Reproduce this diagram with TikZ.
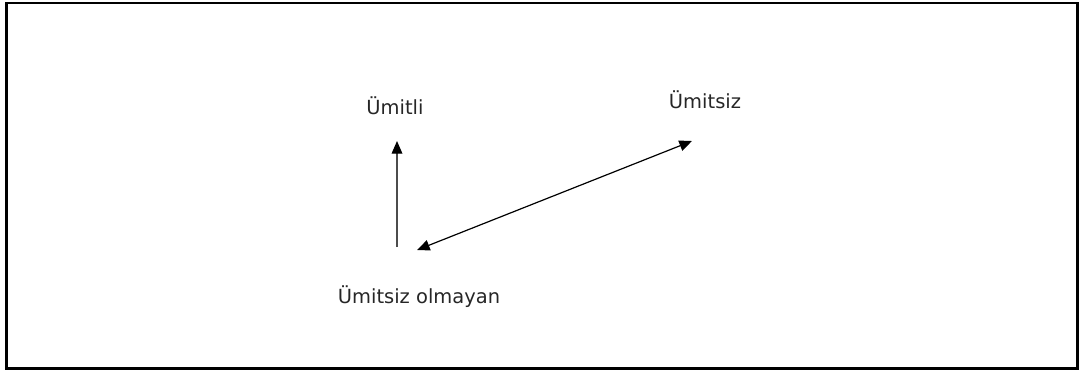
\documentclass[tikz,border=0pt]{standalone}
\usepackage{fontspec}
\setmainfont{DejaVu Sans}
\usetikzlibrary{arrows.meta}

\begin{document}
\begin{tikzpicture}[
    x=0.75pt, y=-0.75pt,
    lbl/.style={inner sep=0pt, text=black!85, font=\fontsize{14.6}{16}\selectfont},
    arrow/.style={-{Triangle[length=9.5pt, width=8pt, color=black]}, line width=0.9pt},
    both/.style={{Triangle[length=9.5pt, width=8pt]}-{Triangle[length=9.5pt, width=8pt]}, line width=0.9pt}
]
\useasboundingbox (0,0) rectangle (1081,371);

% frame
\draw[line width=1.6pt] (6.5,3) rectangle (1077.5,368.5);

% labels
\node[lbl] (umitli) at (395,106) {Ümitli};
\node[lbl] (umitsiz) at (705,100) {Ümitsiz};
\node[lbl] (olmayan) at (419,297) {Ümitsiz olmayan};

% arrow ends
\coordinate (up0) at (397,247);
\coordinate (up1) at (397,141);
\coordinate (d0) at (417,250);
\coordinate (d1) at (692,141);

% arrows
\draw[arrow, black!70] (up0) -- (up1);
\draw[both] (d0) -- (d1);

\end{tikzpicture}
\end{document}
